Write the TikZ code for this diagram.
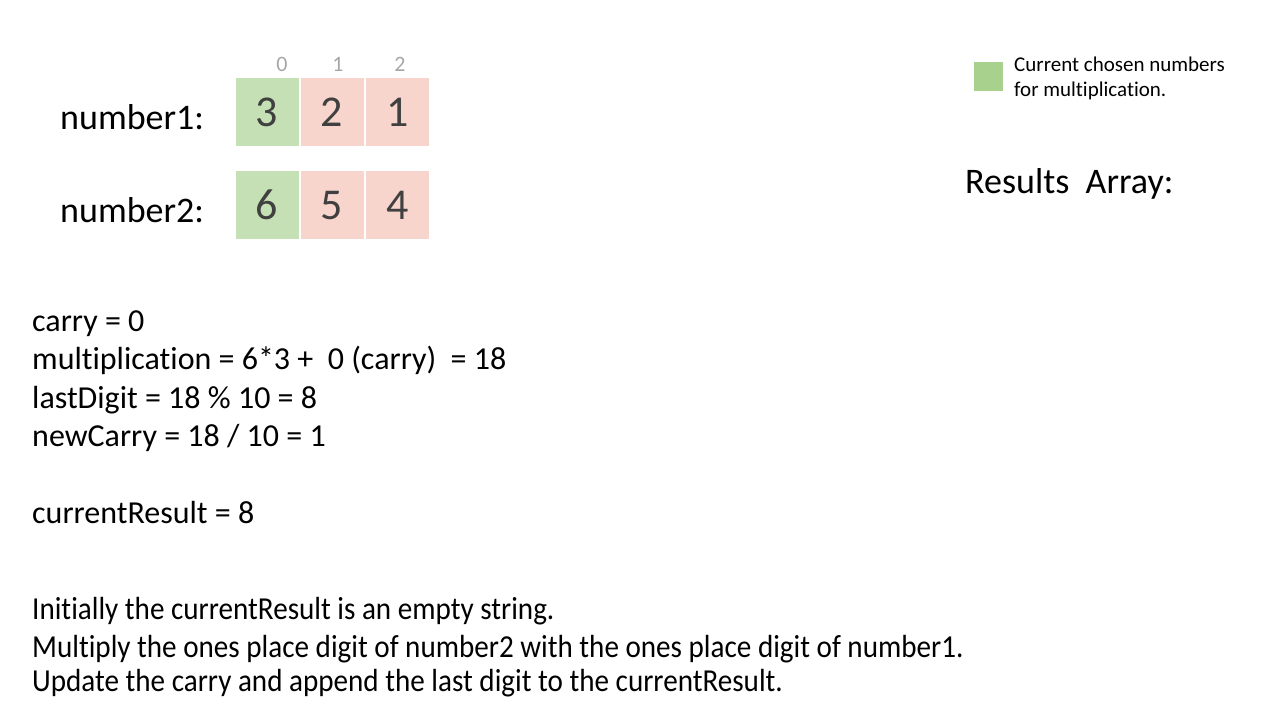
\documentclass[tikz,border=0pt]{standalone}
\usepackage{fontspec}
\setmainfont{Carlito}[Ligatures=NoCommon]
\definecolor{selgreen}{HTML}{C5E0B4}
\definecolor{cellpink}{HTML}{F8D5CC}
\definecolor{legendgreen}{HTML}{A9D18E}
\definecolor{idxgray}{HTML}{A6A6A6}
\definecolor{digitgray}{HTML}{404040}
\begin{document}
\begin{tikzpicture}[x=1pt,y=-1pt,
  cell/.style={minimum width=64pt,minimum height=69pt,inner sep=0pt,draw=white,line width=1.2pt,
    font=\fontsize{44}{52}\selectfont,text=digitgray,anchor=north west},
  sel/.style={cell,fill=selgreen},
  rest/.style={cell,fill=cellpink},
  idx/.style={font=\fontsize{22}{26}\selectfont,text=idxgray,anchor=base},
  body/.style={font=\fontsize{32}{38}\selectfont,anchor=base west,inner sep=0pt},
  big/.style={font=\fontsize{36}{42}\selectfont,anchor=base west,inner sep=0pt},
  small/.style={font=\fontsize{21}{25}\selectfont,anchor=base west,inner sep=0pt}]
\useasboundingbox (0,0) rectangle (1280,720);
% index labels
\node[idx] (i0) at (282,71) {0};
\node[idx] (i1) at (338,71) {1};
\node[idx] (i2) at (400,71) {2};
% row labels
\node[big] (n1) at (60,129) {number1:};
\node[big] (n2) at (60,222) {number2:};
% cells
\node[sel] (a0) at (234.5,77) {3};
\node[rest] (a1) at (299.5,77) {2};
\node[rest] (a2) at (365,77) {1};
\node[sel] (b0) at (234.5,170) {6};
\node[rest] (b1) at (299.5,170) {5};
\node[rest] (b2) at (365,170) {4};
% legend
\node[fill=legendgreen,minimum size=29pt,inner sep=0pt,anchor=north west] (lg) at (974,62) {};
\node[small] (lt1) at (1014,71) {Current\ chosen\ numbers};
\node[small] (lt2) at (1014,96) {for multiplication.};
\node[big] (ra) at (965,193) {Results\ \ Array:};
% computation
\node[body] (c1) at (32,331) {carry = 0};
\node[body] (c2) at (32,369) {multiplication = 6*3 +\ \ 0 (carry)\ \ = 18};
\node[body] (c3) at (32,408) {lastDigit = 18 \% 10 = 8};
\node[body] (c4) at (32,446) {newCarry = 18 / 10 = 1};
\node[body] (c5) at (32,523) {currentResult = 8};
% explanation
\node[body] (e1) at (32,619) {\scalebox{0.91}[1]{Initially the currentResult is an empty string.}};
\node[body] (e2) at (32,657) {\scalebox{0.91}[1]{Multiply the ones place digit of number2 with the ones place digit of number1.}};
\node[body] (e3) at (32,691) {\scalebox{0.91}[1]{Update the carry and append the last digit to the currentResult.}};
\end{tikzpicture}
\end{document}
